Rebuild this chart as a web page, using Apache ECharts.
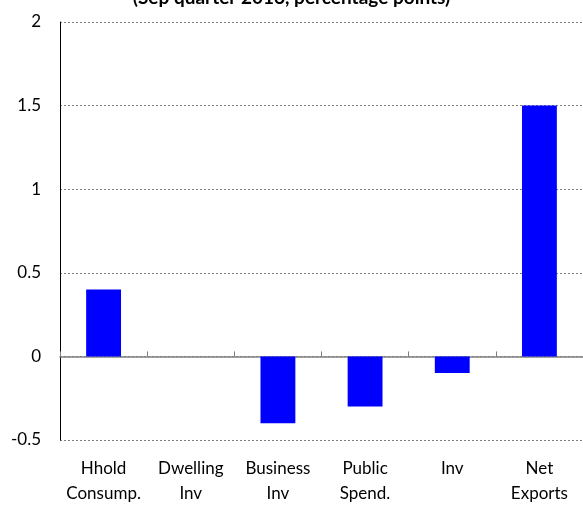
<!DOCTYPE html>
<html><head><meta charset="utf-8">
<script src="https://cdn.jsdelivr.net/npm/echarts@6/dist/echarts.min.js"></script>
<style>html,body{margin:0;padding:0;background:#fff}#c{width:583px;height:506px}</style>
</head><body><div id="c"></div>
<script>
const titleText = "(Sep quarter 2016, percentage points)";
const categories = ["Hhold\nConsump.", "Dwelling\nInv", "Business\nInv", "Public\nSpend.", "Inv", "Net\nExports"];
const values = [0.4, 0, -0.4, -0.3, -0.1, 1.5];
const yTicks = [-0.5, 0, 0.5, 1, 1.5, 2];

const font = "Lato, 'Open Sans', sans-serif";
const chart = echarts.init(document.getElementById('c'));
chart.setOption({
  animation: false,
  title: {
    text: titleText, left: 'center', top: -17,
    textStyle: {fontFamily: font, fontSize: 19, fontWeight: 'bold', color: '#000'}
  },
  grid: {left: 60, top: 22, right: -2, bottom: 65, containLabel: false},
  xAxis: [{
    type: 'category', data: categories, position: 'bottom',
    axisLine: {onZero: true, lineStyle: {color: '#808080', width: 1.5}},
    axisTick: {show: true, inside: true, length: 5, lineStyle: {color: '#808080'}},
    axisLabel: {show: false},
    splitLine: {show: false}
  }, {
    type: 'category', data: categories, position: 'bottom', offset: 0,
    axisLine: {show: false, onZero: false},
    axisTick: {show: false},
    axisLabel: {show: true, interval: 0, hideOverlap: false, fontFamily: font, fontSize: 17, color: '#000', lineHeight: 25, margin: 16}
  }],
  yAxis: {
    type: 'value', min: yTicks[0], max: yTicks[yTicks.length - 1], interval: 0.5,
    axisLine: {show: true, lineStyle: {color: '#000', width: 1}},
    axisTick: {show: false},
    axisLabel: {fontFamily: font, fontSize: 17, color: '#000', margin: 19},
    splitLine: {show: true, lineStyle: {color: '#808080', type: [2, 2], width: 1}}
  },
  series: [{
    type: 'bar', data: values, xAxisIndex: 0, barWidth: '40%',
    itemStyle: {color: '#0000FF'}
  }]
});
</script></body></html>
